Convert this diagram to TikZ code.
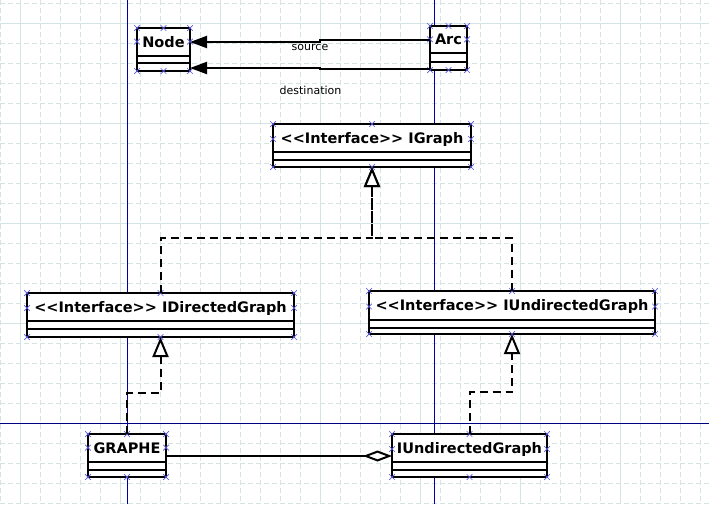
\documentclass[tikz,border=0pt]{standalone}
\usepackage{fontspec}
\setmainfont{DejaVu Sans}[Ligatures=TeXOff]
\usetikzlibrary{arrows.meta,shapes.misc}
\definecolor{gridc}{RGB}{212,228,228}
\definecolor{selblue}{RGB}{0,0,170}
\definecolor{navyline}{RGB}{0,0,128}
\definecolor{handlec}{RGB}{90,90,230}
\tikzset{
  umlbox/.style={draw=black, line width=2pt, fill=white, inner sep=0pt, outer sep=0pt},
  umltext/.style={font=\bfseries\fontsize{14.5}{16}\selectfont, inner sep=0pt, anchor=base},
  divider/.style={line width=2pt},
  gridminor/.style={gridc, line width=1pt, dash pattern=on 5pt off 3pt},
  gridmajor/.style={gridc, line width=1pt},
  realize/.style={line width=2pt, dash pattern=on 8pt off 5pt, -{Triangle[fill=white,length=20pt,width=16pt,line width=2pt]}},
  assoc/.style={line width=2pt, -{Triangle[length=17pt,width=12pt]}},
  aggr/.style={line width=2pt, -{Diamond[fill=white,length=29pt,width=11pt,line width=2pt]}},
  lbl/.style={font=\fontsize{11}{13}\selectfont, inner sep=0pt, anchor=base},
  hmark/.style={cross out, draw=handlec, line width=0.7pt, minimum size=5pt, inner sep=0pt},
}
\newcommand\umlclass[8]{%
  \node[umlbox, anchor=north west, minimum width={#4-#2}, minimum height={#5-#3}] (#1) at (#2,#3) {};
  \node[umltext] (#1-t) at ({(#2+#4)/2},{(#3+#6)/2+5}) {#8};
  \draw[divider] (#1.west |- 0,#6) -- (#1.east |- 0,#6) (#1.west |- 0,#7) -- (#1.east |- 0,#7);
  \foreach \a in {north west,north,north east,south west,south,south east} \node[hmark] at (#1.\a) {};
  \node[hmark] at (#1.west |- #1-t) {};
  \node[hmark] at (#1.east |- #1-t) {};
}
\begin{document}
\begin{tikzpicture}[x=1pt,y=-1pt]
\useasboundingbox (0,0) rectangle (709,504);
\fill[white] (0,0) rectangle (709,504);
% grid
\foreach \x in {0,20,...,700} \draw[gridminor] (\x,0) -- (\x,504);
\foreach \y in {3,23,...,503} \draw[gridminor] (0,\y) -- (709,\y);
\foreach \x in {20,120,...,620} \draw[gridmajor] (\x,0) -- (\x,504);
\foreach \y in {23,123,...,423} \draw[gridmajor] (0,\y) -- (709,\y);
% guide lines
\draw[selblue, line width=1pt] (127,0) -- (127,504) (434,0) -- (434,504);
\draw[navyline, line width=1pt] (0,423) -- (709,423);
% classes
\umlclass{nodecls}{137}{28}{190}{71}{56}{63}{Node}
\umlclass{arc}{430}{26}{467}{70}{53}{62}{Arc}
\umlclass{igraph}{273}{124}{471}{167}{152}{160}{<<Interface>> IGraph}
\umlclass{dir}{27}{293}{294}{337}{321}{329}{<<Interface>> IDirectedGraph}
\umlclass{undir}{369}{291}{655}{334}{320}{328}{<<Interface>> IUndirectedGraph}
\umlclass{graphe}{88}{434}{166}{477}{462}{470}{GRAPHE}
\umlclass{uclass}{392}{434}{547}{477}{462}{470}{IUndirectedGraph}
% associations
\draw[assoc] (arc.west |- 0,40) -- (320,40) -- (320,42) -- (nodecls.east |- 0,42);
\draw[assoc] (arc.west |- 0,69) -- (320,69) -- (320,68) -- (nodecls.east |- 0,68);
\node[lbl] (lsrc) at (310,50) {source};
\node[lbl] (ldst) at (310.5,94) {destination};
% realizations
\draw[realize] (dir.north) -- (dir.north |- 0,238) -- (igraph.south |- 0,238) -- (igraph.south);
\draw[realize] (undir.north) -- (undir.north |- 0,238) -- (igraph.south |- 0,238) -- (igraph.south);
\draw[realize] (graphe.north) -- (graphe.north |- 0,393) -- (dir.south |- 0,393) -- (dir.south);
\draw[realize] (uclass.north) -- (uclass.north |- 0,392) -- (undir.south |- 0,392) -- (undir.south);
% aggregation
\draw[aggr] (graphe.east |- 0,456) -- (uclass.west |- 0,456);
\end{tikzpicture}
\end{document}
